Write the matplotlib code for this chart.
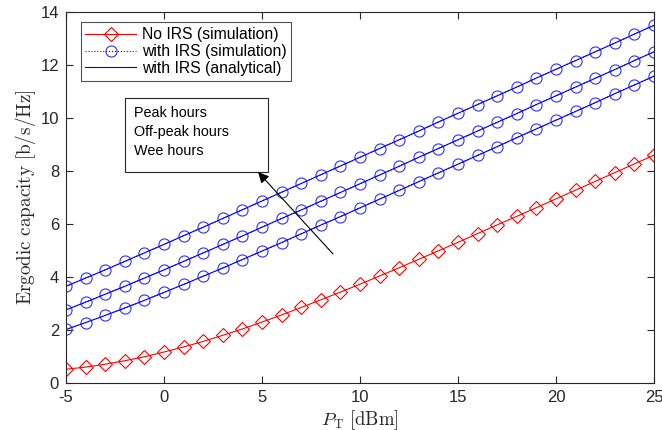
import matplotlib
matplotlib.use("Agg")
import matplotlib.pyplot as plt
from matplotlib.patches import Rectangle

plt.rcParams['font.family'] = ['Liberation Sans', 'DejaVu Sans']
plt.rcParams['mathtext.fontset'] = 'cm'
plt.rcParams['axes.unicode_minus'] = False

# Transmit power (dBm)
p_t = list(range(-5, 26))

# Ergodic capacity [b/s/Hz]
no_irs = [0.52, 0.60, 0.71, 0.84, 0.99, 1.17, 1.36, 1.57, 1.80, 2.04, 2.30,
          2.57, 2.85, 3.14, 3.43, 3.73, 4.04, 4.35, 4.67, 4.99, 5.31,
          5.64, 5.97, 6.29, 6.62, 6.95, 7.28, 7.61, 7.94, 8.27, 8.60]
peak = [3.65, 3.96, 4.27, 4.59, 4.91, 5.23, 5.56, 5.88, 6.21, 6.54, 6.87,
        7.20, 7.53, 7.86, 8.19, 8.52, 8.85, 9.18, 9.51, 9.85, 10.18,
        10.51, 10.84, 11.17, 11.51, 11.84, 12.17, 12.50, 12.83, 13.17, 13.50]
off_peak = [2.76, 3.05, 3.35, 3.65, 3.96, 4.27, 4.59, 4.91, 5.23, 5.55, 5.88,
            6.21, 6.53, 6.86, 7.19, 7.52, 7.85, 8.18, 8.52, 8.85, 9.18,
            9.51, 9.84, 10.17, 10.51, 10.84, 11.17, 11.50, 11.83, 12.17, 12.50]
wee = [2.02, 2.28, 2.55, 2.83, 3.12, 3.42, 3.72, 4.03, 4.34, 4.66, 4.98,
       5.30, 5.63, 5.96, 6.28, 6.61, 6.94, 7.27, 7.60, 7.93, 8.26,
       8.59, 8.92, 9.26, 9.59, 9.92, 10.25, 10.58, 10.92, 11.25, 11.58]

legend_labels = ['No IRS (simulation)', 'with IRS (simulation)', 'with IRS (analytical)']
box_lines = ['Peak hours', 'Off-peak hours', 'Wee hours']

fig = plt.figure(figsize=(6.62, 4.30), dpi=100)
ax = fig.add_axes([0.0997, 0.1093, 0.8883, 0.8627])

lw = 0.8
ms = 8
h_red, = ax.plot(p_t, no_irs, color='red', lw=lw, marker='D', ms=ms * 0.85,
                 mfc='none', mec='red', mew=0.8)
h_sim = None
h_ana = None
for series in (peak, off_peak, wee):
    h_sim, = ax.plot(p_t, series, color='blue', lw=lw, ls=':', marker='o', ms=ms,
                     mfc='none', mec='#3030ff', mew=0.8)
    h_ana, = ax.plot(p_t, series, color='blue', lw=lw, ls='-')

leg = ax.legend([h_red, h_sim, h_ana], legend_labels, loc='upper left',
                bbox_to_anchor=(0.025, 0.972), fontsize=11.3, frameon=True,
                fancybox=False, edgecolor='#262626', handlelength=3.2,
                handletextpad=0.4, borderpad=0.3, labelspacing=0.12,
                borderaxespad=0)
leg.get_frame().set_linewidth(0.8)

ax.set_xlim(-5, 25)
ax.set_ylim(0, 14)
ax.set_xticks(range(-5, 26, 5))
ax.set_yticks(range(0, 15, 2))
ax.tick_params(direction='in', top=True, right=True, labelsize=12, length=5,
               width=0.8, colors='#262626', pad=5)
for sp in ax.spines.values():
    sp.set_linewidth(0.8)
    sp.set_color('#262626')

ax.set_xlabel(r'$P_{\mathrm{T}}\ \mathrm{[dBm]}$', fontsize=13.5, color='#262626', labelpad=2)
ax.set_ylabel(r'$\mathrm{Ergodic\ capacity\ [b/s/Hz]}$', fontsize=13.8, color='#262626', labelpad=2)

# Annotation box with arrow
ax.add_patch(Rectangle((-1.99, 7.96), 7.30, 2.79, fill=True, facecolor='white',
                       edgecolor='#262626', lw=0.8, zorder=5))
for i, t in enumerate(box_lines):
    ax.text(-1.55, 10.2 - i * 0.72, t, fontsize=10.4, va='center', ha='left',
            color='black', zorder=6)
ax.annotate('', xy=(4.8, 7.96), xytext=(8.62, 4.87),
            arrowprops=dict(arrowstyle='-|>', color='black', lw=0.8,
                            mutation_scale=16, shrinkA=0, shrinkB=0), zorder=6)

fig.savefig('out.png', dpi=100)
